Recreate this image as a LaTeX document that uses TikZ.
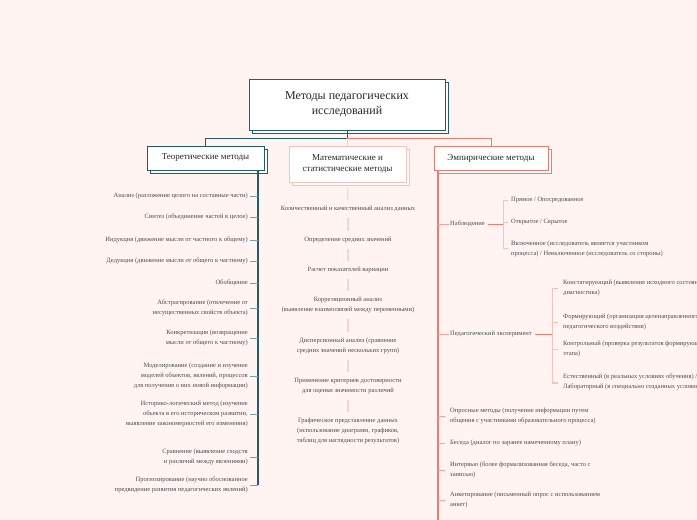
\documentclass[tikz,border=0pt]{standalone}
\usepackage{fontspec}
\setmainfont{Liberation Serif}
\begin{document}
\begin{tikzpicture}[x=1pt,y=-1pt,
  sm/.style={font=\fontsize{6.5}{9.6}\selectfont,text=black!70,inner sep=1pt},
  lt/.style={sm,anchor=east,align=right},
  mt/.style={sm,align=center},
  rt/.style={sm,anchor=west,align=left},
  hd/.style={draw,line width=0.9pt,fill=white,font=\fontsize{9}{11}\selectfont,inner sep=4pt,align=center,text=black!85}]
\definecolor{bg}{HTML}{FFF4F2}
\definecolor{teal}{HTML}{1E5F6A}
\definecolor{sal}{HTML}{F07A6E}
\definecolor{pk}{HTML}{F6C2BA}
\clip (0,0) rectangle (697,520);
\fill[bg] (0,0) rectangle (697,520);
% title
\fill[white,draw=teal,line width=0.9pt] (252,82) rectangle (448,133);
\node[hd,draw=teal,minimum width=196pt,minimum height=51pt,font=\fontsize{12}{15}\selectfont] (root) at (347,104.5) {Методы педагогических\\исследований};
% headers
\fill[white,draw=teal,line width=0.8pt] (150,149) rectangle (267,173);
\node[hd,draw=teal,minimum width=117pt,minimum height=24pt] (L) at (205.5,158) {Теоретические методы};
\fill[white,draw=pk,line width=0.8pt] (292,149) rectangle (409,185);
\node[hd,draw=pk,minimum width=117pt,minimum height=36pt] (M) at (347.5,164) {Математические и\\статистические методы};
\fill[white,draw=sal,line width=0.8pt] (437,149) rectangle (551,173);
\node[hd,draw=sal,minimum width=114pt,minimum height=24pt] (R) at (491,158) {Эмпирические методы};
\draw[teal,line width=0.8pt] (root.south) -- (347,138) -| (L.north);
\draw[sal,line width=0.8pt] (347,138) -| (R.north);
\draw[pk,line width=0.8pt] (347,138) -- (M.north);
% left
\draw[teal,line width=1.2pt] (258,170) -- (258,485);
\foreach \y/\t in {196/{Анализ (разложение целого на составные части)},217/{Синтез (объединение частей в целое)},240/{Индукция (движение мысли от частного к общему)},261/{Дедукция (движение мысли от общего к частному)},283/{Обобщение},308/{Абстрагирование (отвлечение от\\несущественных свойств объекта)},338/{Конкретизация (возвращение\\мысли от общего к частному)},376/{Моделирование (создание и изучение\\моделей объектов, явлений, процессов\\для получения о них новой информации)},414/{Историко-логический метод (изучение\\объекта в его историческом развитии,\\выявление закономерностей его изменения)},457/{Сравнение (выявление сходств\\и различий между явлениями)},485/{Прогнозирование (научно обоснованное\\предвидение развития педагогических явлений)}}{
  \node[lt] (l\y) at (249,\y) {\t};
  \draw[teal!60,line width=0.6pt] (l\y.east) ++(1,0) -- (258,\y);
}
% middle
\foreach \y/\t in {209/{Количественный и качественный анализ данных},240/{Определение средних значений},270/{Расчет показателей вариации},305/{Корреляционный анализ\\(выявление взаимосвязей между переменными)},346/{Дисперсионный анализ (сравнение\\средних значений нескольких групп)},386/{Применение критериев достоверности\\для оценки значимости различий},431/{Графическое представление данных\\(использование диаграмм, графиков,\\таблиц для наглядности результатов)}}{
  \node[mt] (m\y) at (348,\y) {\t};
}
\foreach \a/\b in {M/m209,m209/m240,m240/m270,m270/m305,m305/m346,m346/m386,m386/m431}{
  \draw[pk!70,line width=1.2pt,shorten <=5pt,shorten >=5pt] (\a.south) -- (\b.north);
}
% right
\draw[sal,line width=1.6pt] (438,170) -- (438,520);
\node[rt] (obs) at (449,224) {Наблюдение};
\node[rt] (exp) at (449,334) {Педагогический эксперимент};
\foreach \y/\t in {416/{Опросные методы (получение информации путем\\общения с участниками образовательного процесса)},443/{Беседа (диалог по заранее намеченному плану)},470/{Интервью (более формализованная беседа, часто с\\записью)},500/{Анкетирование (письменный опрос с использованием\\анкет)}}{
  \node[rt] (r\y) at (449,\y) {\t};
  \draw[sal!70,line width=0.6pt] (438,\y) -- (445,\y);
}
\draw[sal!70,line width=0.6pt] (438,224) -- (obs.west);
\draw[sal!70,line width=0.6pt] (438,334) -- (exp.west);
% observation subs
\draw[sal,line width=0.9pt] (obs.east) ++(2,0) -- (503,224);
\draw[pk,line width=0.6pt] (508,200) -- (503,200) -- (503,248) -- (508,248);
\foreach \y/\t in {200/{Прямое / Опосредованное},222/{Открытое / Скрытое},249/{Включенное (исследователь является участником\\процесса) / Невключенное (исследователь со стороны)}}{
  \node[rt] (o\y) at (510,\y) {\t};
}
\draw[pk,line width=0.6pt] (503,222) -- (508,222);
% experiment subs
\draw[sal,line width=0.9pt] (exp.east) ++(2,0) -- (552,334);
\draw[pk,line width=0.6pt] (558,288) -- (552,288) -- (552,383) -- (558,383);
\foreach \y/\t in {288/{Констатирующий (выявление исходного состояния,\\диагностика)},322/{Формирующий (организация целенаправленного\\педагогического воздействия)},349/{Контрольный (проверка результатов формирующего\\этапа)},382/{Естественный (в реальных условиях обучения) /\\Лабораторный (в специально созданных условиях)}}{
  \node[rt] (e\y) at (562,\y) {\t};
  \draw[pk,line width=0.6pt] (552,\y) -- (558,\y);
}
\end{tikzpicture}
\end{document}
